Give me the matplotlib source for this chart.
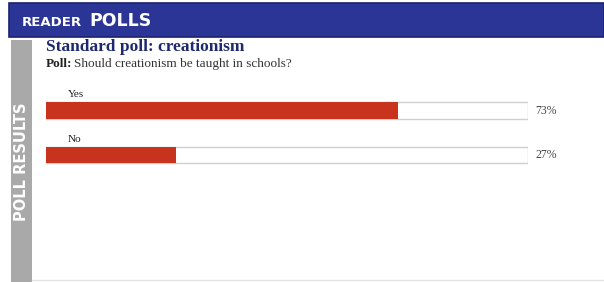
import matplotlib.pyplot as plt
from matplotlib.patches import Rectangle

# ----------------------------
# Data
# ----------------------------
answers = ["Yes", "No"]
percents = [73, 27]
pct_labels = ["73%", "27%"]

W, H = 604, 282
fig = plt.figure(figsize=(W / 100, H / 100), dpi=100)
fig.patch.set_facecolor("white")


def fx(x):
    return x / W


def fy(y):
    return 1 - y / H


# ----------------------------
# Header band + sidebar
# ----------------------------
fig.add_artist(Rectangle((fx(9), fy(37)), fx(W - 9), (37 - 3) / H,
                         transform=fig.transFigure, facecolor="#2b3595",
                         edgecolor="#1a2270", lw=1.2))
fig.add_artist(Rectangle((fx(11), fy(282)), fx(21), (282 - 40) / H,
                         transform=fig.transFigure, facecolor="#a9a9a9",
                         edgecolor="none"))
fig.add_artist(plt.Line2D([fx(32), fx(604)], [fy(280), fy(280)],
                          transform=fig.transFigure, color="#e4e4e4", lw=1))

fig.text(fx(22), fy(23), "READER", color="white", fontsize=9.5,
         fontweight="bold", family="DejaVu Sans", va="center", ha="left")
fig.text(fx(89), fy(21), "POLLS", color="white", fontsize=12.5,
         fontweight="bold", family="DejaVu Sans", va="center", ha="left")
fig.text(fx(22), fy(162), "POLL RESULTS", color="white", fontsize=10.5,
         fontweight="bold", family="DejaVu Sans", rotation=90,
         va="center", ha="center")

# ----------------------------
# Titles
# ----------------------------
fig.text(fx(46), fy(47), "Standard poll: creationism", color="#1f2a6e",
         fontsize=12.5, fontweight="bold", family="Liberation Serif",
         va="center", ha="left")
fig.text(fx(46), fy(64), "Poll:", color="#222222", fontsize=9.5,
         fontweight="bold", family="Liberation Serif",
         va="center", ha="left")
fig.text(fx(74), fy(64), "Should creationism be taught in schools?",
         color="#333333", fontsize=9.5, family="Liberation Serif",
         va="center", ha="left")

# ----------------------------
# Bars
# ----------------------------
ax = fig.add_axes([fx(46), fy(177.25), (528 - 46) / W, 89 / H])
ax.set_xlim(0, 100)
ax.set_ylim(1.5, -0.5)
ax.axis("off")

ypos = list(range(len(answers)))
ax.barh(ypos, [100] * len(answers), height=0.36, color="white",
        edgecolor="#cfcfcf", lw=1)
ax.barh(ypos, percents, height=0.36, color="#c8331d", edgecolor="none")

for i, (name, lab) in enumerate(zip(answers, pct_labels)):
    ax.text(4.6, i - 0.35, name, fontsize=8, family="Liberation Serif",
            color="#222222", va="center", ha="left")
    ax.text(101.6, i, lab, fontsize=8.5, family="Liberation Serif",
            color="#444444", va="center", ha="left", clip_on=False)

fig.savefig("out.png", dpi=100, facecolor="white")
